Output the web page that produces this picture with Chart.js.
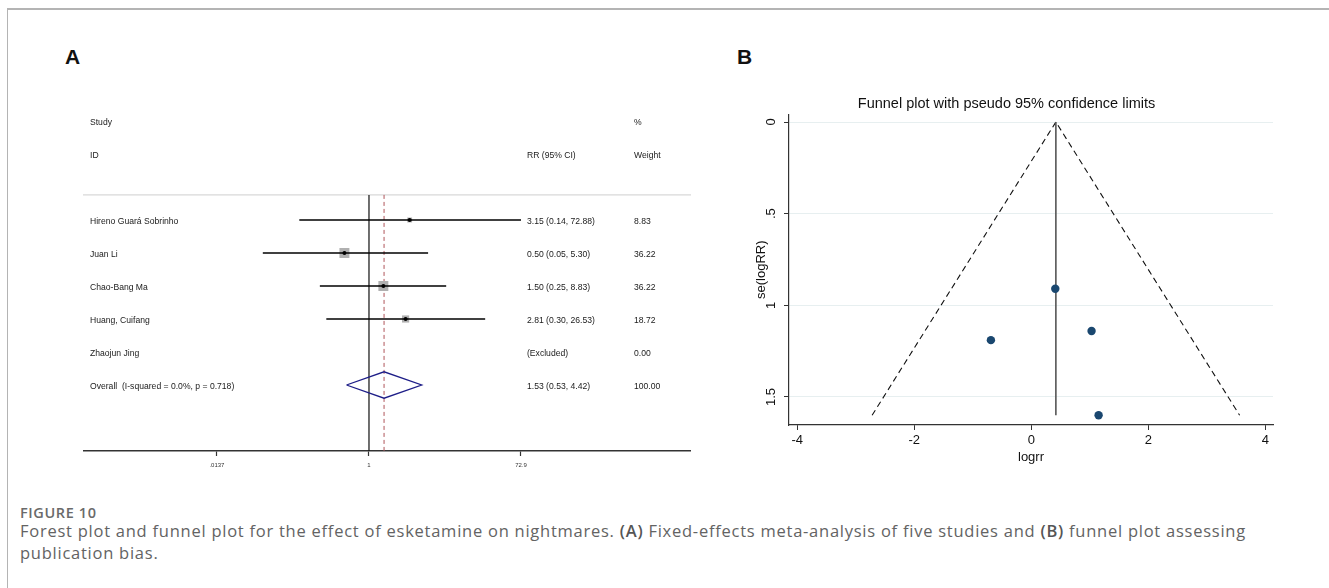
<!DOCTYPE html>
<html>
<head>
<meta charset="utf-8">
<script src="https://cdn.jsdelivr.net/npm/chart.js@4"></script>
<style>
  body { margin: 0; background: #fff; width: 1329px; height: 588px; overflow: hidden; position: relative; font-family: 'Liberation Sans', Arial, sans-serif; }
  .frame { position: absolute; left: 7px; top: 8px; right: 0; bottom: 0; border-left: 1.5px solid #b4b4b4; border-top: 2px solid #b4b4b4; }
  .panel { position: absolute; font-weight: bold; font-size: 21px; line-height: 24px; color: #111; }
  canvas { position: absolute; }
  #cap { position: absolute; left: 20px; top: 506px; width: 1300px; font-family: 'Open Sans', sans-serif; color: #636363; }
  #cap .fig { font-size: 14.5px; font-weight: 600; color: #6a6a6a; line-height: 14px; letter-spacing: 0.6px; }
  #cap .txt { font-size: 16.5px; line-height: 22px; letter-spacing: 0.75px; }
  #cap .txt b { font-weight: 600; color: #555; }
</style>
</head>
<body>
<div class="frame"></div>
<div class="panel" style="left:65px; top:45px;">A</div>
<div class="panel" style="left:737px; top:45px;">B</div>
<canvas id="forest" width="608" height="376" style="left:83px; top:100px;"></canvas>
<canvas id="funnel" width="584" height="382" style="left:740px; top:85px;"></canvas>
<div id="cap">
  <div class="fig">FIGURE 10</div>
  <div class="txt">Forest plot and funnel plot for the effect of esketamine on nightmares. <b>(A)</b> Fixed-effects meta-analysis of five studies and <b>(B)</b> funnel plot assessing<br>publication bias.</div>
</div>
<script>
// forest plot data (A)
const studies = ['Hireno Guará Sobrinho', 'Juan Li', 'Chao-Bang Ma', 'Huang, Cuifang', 'Zhaojun Jing'];
const rr = [3.15, 0.50, 1.50, 2.81, null];
const rrLow = [0.14, 0.05, 0.25, 0.30, null];
const rrHigh = [72.88, 5.30, 8.83, 26.53, null];
const weights = [8.83, 36.22, 36.22, 18.72, 0.00];
const overallRR = [1.53, 0.53, 4.42];
const overallWeight = 100.00;
const overallLabel = 'Overall  (I-squared = 0.0%, p = 0.718)';
const forestTicks = [0.0137, 1, 72.9];
const forestTickLabels = ['.0137', '1', '72.9'];

// funnel plot data (B)
const logrr = [1.15, -0.69, 0.41, 1.03];
const seLogrr = [1.60, 1.19, 0.91, 1.14];
const pooledLogrr = 0.42;
const funnelX = [-2.72, 0.42, 3.56];
const funnelSe = [1.60, 0, 1.60];
const funnelXTicks = [-4, -2, 0, 2, 4];
const funnelYTicks = [0, 0.5, 1, 1.5];
const funnelYTickLabels = ['0', '.5', '1', '1.5'];

const arial = 'Liberation Sans, Arial, sans-serif';
const xMin = 0.000313, xMax = 8830;
const sepRow = -0.76, axisRow = 7;
const overallRow = studies.length;

let forestSets = [];
forestSets.push({ data: [{x: xMin, y: sepRow}, {x: xMax, y: sepRow}], borderColor: '#cfcfcf', borderWidth: 1, order: 9 });
forestSets.push({ data: [{x: 1, y: sepRow}, {x: 1, y: axisRow}], borderColor: '#111', borderWidth: 1.2, order: 8 });
forestSets.push({ data: [{x: overallRR[0], y: sepRow}, {x: overallRR[0], y: axisRow}], borderColor: '#b0545a', borderWidth: 1, borderDash: [4, 3], order: 8 });

for (let i = 0; i < studies.length; i++) {
  if (rr[i] === null) continue;
  forestSets.push({ data: [{x: rrLow[i], y: i}, {x: rrHigh[i], y: i}], borderColor: '#000', borderWidth: 1.3, order: 3 });
}

let boxPts = [], boxR = [], dotPts = [];
for (let i = 0; i < studies.length; i++) {
  if (rr[i] === null) continue;
  boxPts.push({x: rr[i], y: i});
  boxR.push(1.17 * Math.sqrt(weights[i]));
  dotPts.push({x: rr[i], y: i});
}
forestSets.push({ data: boxPts, showLine: false, pointStyle: 'rect', pointRadius: boxR, backgroundColor: '#b0b0b0', borderWidth: 0, order: 5 });
forestSets.push({ data: dotPts, showLine: false, pointStyle: 'circle', pointRadius: 2, backgroundColor: '#000', borderWidth: 0, order: 1 });
forestSets.push({
  data: [
    {x: overallRR[1], y: overallRow}, {x: overallRR[0], y: overallRow - 0.4},
    {x: overallRR[2], y: overallRow}, {x: overallRR[0], y: overallRow + 0.4},
    {x: overallRR[1], y: overallRow}
  ],
  borderColor: '#1e1e88', borderWidth: 1.3, order: 2
});
forestSets.forEach(d => {
  d.showLine = d.showLine !== false;
  if (d.pointRadius === undefined) d.pointRadius = 0;
  d.fill = false;
  d.tension = 0;
});

const forestText = {
  id: 'forestText',
  afterDraw(chart) {
    const ctx = chart.ctx;
    const ys = chart.scales.y;
    const left = chart.chartArea.left;
    const rowY = (r) => ys.getPixelForValue(r) + 1.5;
    ctx.save();
    ctx.font = '8.6px ' + arial;
    ctx.fillStyle = '#1a1a1a';
    ctx.textBaseline = 'middle';
    ctx.textAlign = 'left';
    ctx.fillText('Study', left + 7, rowY(-3));
    ctx.fillText('%', left + 551, rowY(-3));
    ctx.fillText('ID', left + 7, rowY(-2));
    ctx.fillText('RR (95% CI)', left + 444, rowY(-2));
    ctx.fillText('Weight', left + 551, rowY(-2));
    for (let i = 0; i < studies.length; i++) {
      let y = rowY(i);
      ctx.fillText(studies[i], left + 7, y);
      let ci = rr[i] === null ? '(Excluded)' : `${rr[i].toFixed(2)} (${rrLow[i].toFixed(2)}, ${rrHigh[i].toFixed(2)})`;
      ctx.fillText(ci, left + 444, y);
      ctx.fillText(weights[i].toFixed(2), left + 551, y);
    }
    let y = rowY(overallRow);
    ctx.fillText(overallLabel, left + 7, y);
    ctx.fillText(`${overallRR[0].toFixed(2)} (${overallRR[1].toFixed(2)}, ${overallRR[2].toFixed(2)})`, left + 444, y);
    ctx.fillText(overallWeight.toFixed(2), left + 551, y);
    ctx.restore();
  }
};

new Chart(document.getElementById('forest'), {
  type: 'scatter',
  data: { datasets: forestSets },
  plugins: [forestText],
  options: {
    responsive: false,
    animation: false,
    devicePixelRatio: 1,
    layout: { padding: 0, autoPadding: false },
    plugins: { legend: { display: false }, tooltip: { enabled: false } },
    scales: {
      x: {
        type: 'logarithmic',
        min: xMin,
        max: xMax,
        bounds: 'data',
        afterBuildTicks: (s) => { s.ticks = forestTicks.map(v => ({value: v})); },
        afterFit: (s) => { s.height = 25; },
        ticks: {
          autoSkip: false, maxRotation: 0, padding: 6,
          font: { size: 6, family: arial }, color: '#333',
          callback: (v, i) => forestTickLabels[i]
        },
        grid: { drawOnChartArea: false, tickLength: 5, tickColor: '#333', tickWidth: 1.2 },
        border: { display: true, color: '#333', width: 1.5 }
      },
      y: {
        type: 'linear',
        reverse: true,
        min: -3.636,
        max: axisRow,
        display: false
      }
    }
  }
});

new Chart(document.getElementById('funnel'), {
  type: 'scatter',
  data: {
    datasets: [
      {
        data: logrr.map((v, i) => ({x: v, y: seLogrr[i]})),
        showLine: false, pointRadius: 4.2, pointStyle: 'circle',
        backgroundColor: '#1a476f', borderWidth: 0, order: 1
      },
      {
        data: [{x: pooledLogrr, y: 0}, {x: pooledLogrr, y: funnelSe[0]}],
        showLine: true, pointRadius: 0, borderColor: '#555', borderWidth: 1.6, order: 2
      },
      {
        data: funnelX.map((v, i) => ({x: v, y: funnelSe[i]})),
        showLine: true, pointRadius: 0, borderColor: '#111', borderWidth: 1.1, borderDash: [6, 4], order: 3
      }
    ]
  },
  options: {
    responsive: false,
    animation: false,
    devicePixelRatio: 1,
    layout: { padding: { left: 0, right: 51, top: 0, bottom: 0 }, autoPadding: false },
    plugins: {
      legend: { display: false },
      tooltip: { enabled: false },
      title: {
        display: true,
        text: 'Funnel plot with pseudo 95% confidence limits',
        color: '#111',
        font: { size: 14.5, family: arial, weight: 'normal' },
        padding: { top: 10, bottom: 2 }
      }
    },
    scales: {
      x: {
        type: 'linear',
        min: -4.14,
        max: 4.13,
        afterBuildTicks: (s) => { s.ticks = funnelXTicks.map(v => ({value: v})); },
        afterFit: (s) => { s.height = 42; },
        ticks: { autoSkip: false, maxRotation: 0, padding: 3, color: '#111', font: { size: 13, family: arial } },
        grid: { drawOnChartArea: false, tickLength: 5, tickColor: '#333' },
        border: { display: true, color: '#333', width: 1.2 },
        title: { display: true, text: 'logrr', color: '#111', font: { size: 13, family: arial }, padding: { top: 0, bottom: 2 } }
      },
      y: {
        type: 'linear',
        reverse: true,
        min: -0.0415,
        max: 1.653,
        afterBuildTicks: (s) => { s.ticks = funnelYTicks.map(v => ({value: v})); },
        afterFit: (s) => { s.width = 49; },
        ticks: {
          autoSkip: false, minRotation: 90, maxRotation: 90, crossAlign: 'center', padding: 4,
          color: '#111', font: { size: 13, family: arial },
          callback: (v, i) => funnelYTickLabels[i]
        },
        grid: { color: '#e7eff0', lineWidth: 1, tickLength: 5, tickColor: '#333' },
        border: { display: true, color: '#333', width: 1.2 },
        title: { display: true, text: 'se(logRR)', color: '#111', font: { size: 13, family: arial }, padding: { top: 14, bottom: 0 } }
      }
    }
  }
});
</script>
</body>
</html>
